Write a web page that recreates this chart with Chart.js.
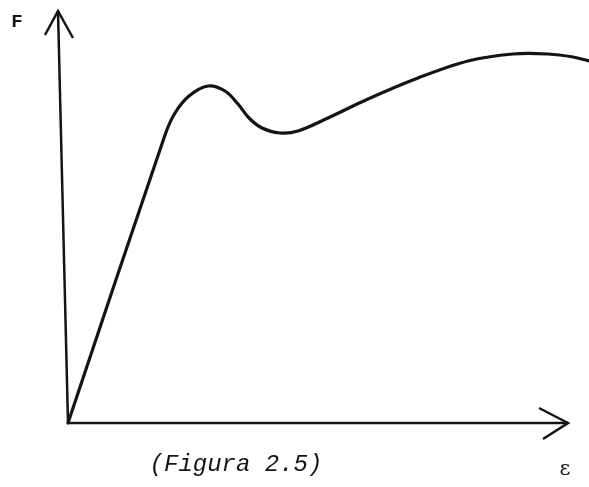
<!DOCTYPE html>
<html>
<head>
<meta charset="utf-8">
<script src="https://cdn.jsdelivr.net/npm/chart.js@4"></script>
<style>
html,body{margin:0;padding:0;background:#fff;}
#wrap{width:589px;height:487px;}
</style>
</head>
<body>
<div id="wrap"><canvas id="c" width="589" height="487"></canvas></div>
<script>
// Strain (ε) and force (F) values (arbitrary units, origin at 0,0)
const strain = [0, 97, 107, 121, 140, 157, 170, 181, 194, 212, 230, 260, 300, 350, 400, 445, 480, 505, 521];
const force  = [0, 288, 310, 327, 337, 332, 319, 305, 295, 290, 292, 305, 324, 345, 362, 369, 369, 366, 362];

// Axes (with arrowheads)
const yAxisX = [0, -10];
const yAxisY = [0, 412];
const yArrowX = [-23, -10, 5];
const yArrowY = [388, 412, 385];
const xAxisX = [0, 500];
const xAxisY = [0, 0];
const xArrowX = [471, 500, 475];
const xArrowY = [15, 0, -16];

const labels = [
  {text: 'F', x: -51, y: 401, font: 'bold 19px "Liberation Mono"'},
  {text: 'ε', x: 497, y: -47, font: '21px "DejaVu Serif"'},
  {text: '(Figura 2.5)', x: 168, y: -42, font: 'italic 24px "Liberation Mono"'}
];

const pts = (xs, ys) => xs.map((v, i) => ({x: v, y: ys[i]}));
const ink = '#141414';

const textPlugin = {
  id: 'texts',
  afterDatasetsDraw(chart) {
    const {ctx, scales} = chart;
    ctx.save();
    ctx.fillStyle = ink;
    ctx.textAlign = 'center';
    ctx.textBaseline = 'middle';
    labels.forEach(l => {
      ctx.font = l.font;
      ctx.fillText(l.text, scales.x.getPixelForValue(l.x), scales.y.getPixelForValue(l.y));
    });
    ctx.restore();
  }
};

new Chart(document.getElementById('c'), {
  type: 'scatter',
  data: {
    datasets: [
      {data: pts(strain, force), showLine: true, borderColor: ink, borderWidth: 3.2, pointRadius: 0, tension: 0.35, borderCapStyle: 'round'},
      {data: pts(yAxisX, yAxisY), showLine: true, borderColor: ink, borderWidth: 2.5, pointRadius: 0},
      {data: pts(yArrowX, yArrowY), showLine: true, borderColor: ink, borderWidth: 2.5, pointRadius: 0, borderJoinStyle: 'miter'},
      {data: pts(xAxisX, xAxisY), showLine: true, borderColor: ink, borderWidth: 2.5, pointRadius: 0},
      {data: pts(xArrowX, xArrowY), showLine: true, borderColor: ink, borderWidth: 2.5, pointRadius: 0, borderJoinStyle: 'miter'}
    ]
  },
  options: {
    responsive: false,
    devicePixelRatio: 1,
    animation: false,
    layout: {padding: 0},
    clip: false,
    plugins: {legend: {display: false}, tooltip: {enabled: false}},
    scales: {
      x: {type: 'linear', display: false, min: -68, max: 521},
      y: {type: 'linear', display: false, min: -64, max: 423}
    }
  },
  plugins: [textPlugin]
});
</script>
</body>
</html>
